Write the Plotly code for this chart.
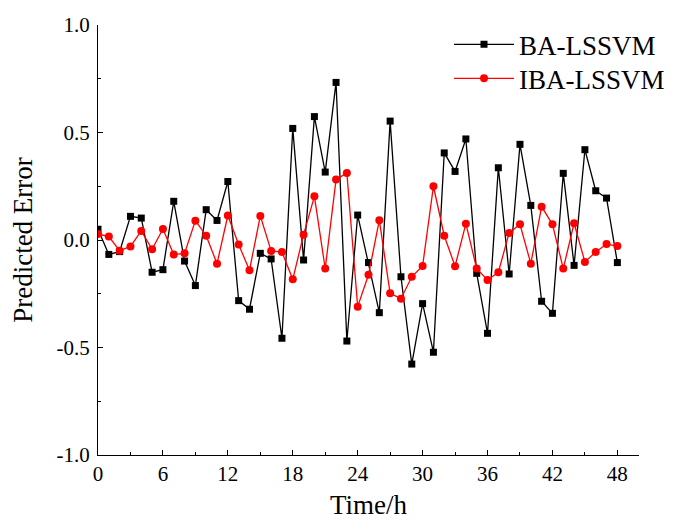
import plotly.graph_objects as go

hours = list(range(49))
ba_lssvm = [0.05, -0.067, -0.054, 0.11, 0.102, -0.15, -0.138, 0.18, -0.098, -0.212,
            0.141, 0.091, 0.272, -0.282, -0.322, -0.062, -0.088, -0.457, 0.519, -0.093,
            0.574, 0.316, 0.733, -0.47, 0.116, -0.105, -0.338, 0.553, -0.171, -0.577,
            -0.296, -0.522, 0.405, 0.319, 0.47, -0.155, -0.434, 0.336, -0.158, 0.445,
            0.161, -0.285, -0.341, 0.31, -0.118, 0.42, 0.229, 0.195, -0.105]
iba_lssvm = [0.028, 0.016, -0.05, -0.03, 0.042, -0.043, 0.051, -0.068, -0.062, 0.09,
             0.02, -0.11, 0.114, -0.021, -0.141, 0.112, -0.051, -0.056, -0.183, 0.025,
             0.203, -0.133, 0.281, 0.312, -0.31, -0.162, 0.092, -0.248, -0.273, -0.171,
             -0.121, 0.25, 0.02, -0.122, 0.076, -0.133, -0.186, -0.15, 0.033, 0.073,
             -0.11, 0.155, 0.073, -0.133, 0.078, -0.102, -0.056, -0.019, -0.028]
x_ticks = [0, 6, 12, 18, 24, 30, 36, 42, 48]
y_ticks = [-1.0, -0.5, 0.0, 0.5, 1.0]

FONT = "Liberation Serif"

fig = go.Figure()
fig.add_trace(go.Scatter(x=hours, y=ba_lssvm, mode="lines+markers", name="BA-LSSVM",
                         line=dict(color="black", width=1.3),
                         marker=dict(symbol="square", size=7, color="black"),
                         legend="legend"))
fig.add_trace(go.Scatter(x=hours, y=iba_lssvm, mode="lines+markers", name="IBA-LSSVM",
                         line=dict(color="red", width=1.3),
                         marker=dict(symbol="circle", size=8, color="red"),
                         legend="legend2"))

axis_common = dict(showgrid=False, zeroline=False, showline=True, linecolor="black",
                   linewidth=1.3, ticks="inside", ticklen=5, tickwidth=1.2,
                   tickcolor="black", automargin=False,
                   tickfont=dict(family=FONT, size=21, color="black"))

fig.update_xaxes(range=[0, 50], tickvals=x_ticks, ticktext=[str(v) for v in x_ticks],
                 minor=dict(ticks="inside", ticklen=3, tickwidth=1, tickcolor="black", dtick=3, tick0=0),
                 title=dict(text="Time/h", font=dict(family=FONT, size=27, color="black"), standoff=17),
                 **axis_common)
fig.update_yaxes(range=[-1.0, 1.0], tickvals=y_ticks, ticktext=[f"{v:.1f}" for v in y_ticks],
                 minor=dict(ticks="inside", ticklen=3, tickwidth=1, tickcolor="black", dtick=0.25, tick0=0),
                 ticklabelstandoff=3,
                 title=dict(text="Predicted Error", font=dict(family=FONT, size=27, color="black"), standoff=15),
                 **axis_common)

legend_common = dict(xanchor="left", yanchor="top",
                     font=dict(family=FONT, size=27, color="black"),
                     bgcolor="rgba(0,0,0,0)", borderwidth=0, itemwidth=60)

fig.update_layout(
    width=665, height=512,
    margin=dict(l=90, r=34, t=17, b=65, autoexpand=False),
    plot_bgcolor="white", paper_bgcolor="white",
    font=dict(family=FONT, color="black"),
    legend=dict(x=0.6488, y=1.011, **legend_common),
    legend2=dict(x=0.6488, y=0.932, **legend_common),
    showlegend=True,
)

fig.write_html("out.html")
